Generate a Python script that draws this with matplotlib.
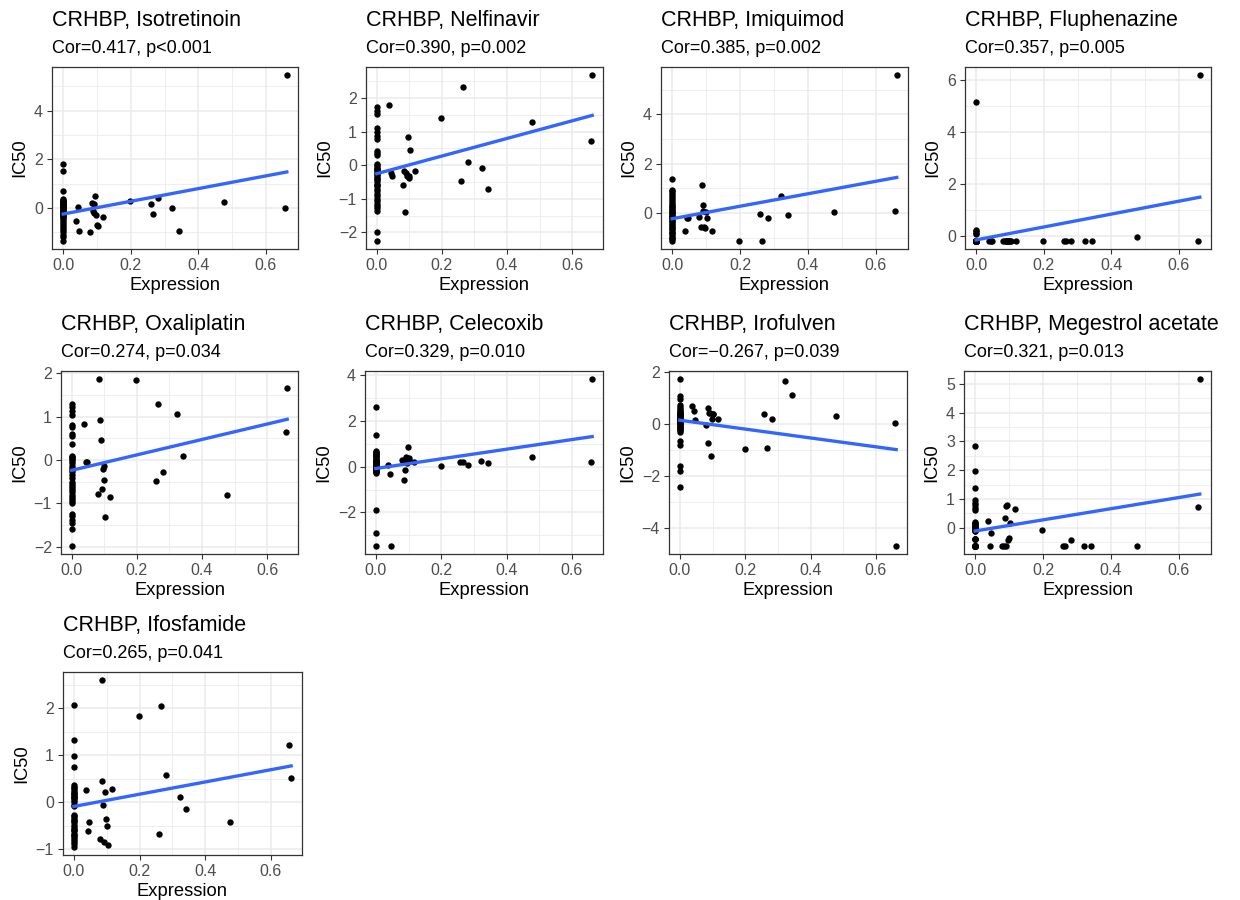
import numpy as np
import matplotlib
matplotlib.use('Agg')
import matplotlib.pyplot as plt
from matplotlib.ticker import MultipleLocator

plt.rcParams['font.family'] = ['Liberation Sans', 'DejaVu Sans']

# expression of samples with non-zero CRHBP (the rest are 0)
x_nz = [0.037, 0.043, 0.046, 0.080, 0.085, 0.087, 0.090, 0.092, 0.095, 0.098, 0.100,
        0.103, 0.117, 0.198, 0.259, 0.266, 0.281, 0.322, 0.342, 0.477, 0.657, 0.662]

drugs = ['Isotretinoin', 'Nelfinavir', 'Imiquimod', 'Fluphenazine', 'Oxaliplatin',
         'Celecoxib', 'Irofulven', 'Megestrol acetate', 'Ifosfamide']
stats = ['Cor=0.417, p<0.001', 'Cor=0.390, p=0.002', 'Cor=0.385, p=0.002',
         'Cor=0.357, p=0.005', 'Cor=0.274, p=0.034', 'Cor=0.329, p=0.010',
         'Cor=\u22120.267, p=0.039', 'Cor=0.321, p=0.013', 'Cor=0.265, p=0.041']
ystep = [2, 1, 2, 2, 1, 2, 2, 1, 1]

# IC50 of the samples with expression 0
isotretinoin_zero = [1.8, 1.5, 0.7, 0.38, 0.32, 0.27, 0.22, 0.17, 0.12, 0.08, 0.04, 0.0, -0.04, -0.08,
                     -0.12, -0.16, -0.2, -0.24, -0.28, -0.32, -0.36, -0.42, -0.5, -0.58, -0.66, -0.75,
                     -0.82, -0.9, -1.0, -1.1, -1.2, -1.35, 0.3, 0.2, 0.1, 0.25, 0.15, 0.05]
nelfinavir_zero = [1.73, 1.62, 1.52, 1.1, 1.0, 0.88, 0.78, 0.42, 0.36, 0.3, 0.05, 0.0, -0.05, -0.1,
                   -0.15, -0.2, -0.25, -0.3, -0.36, -0.42, -0.48, -0.55, -0.62, -0.7, -0.78, -0.85,
                   -0.92, -1.0, -1.08, -1.15, -1.22, -1.28, -1.35, -2.0, -2.25, -0.12, -0.4, -0.6]
imiquimod_zero = [1.37, 0.95, 0.88, 0.8, 0.72, 0.64, 0.56, 0.48, 0.4, 0.32, 0.25, 0.18, 0.12, 0.05,
                  0.0, -0.05, -0.1, -0.15, -0.2, -0.28, -0.36, -0.44, -0.5, -0.58, -0.66, -0.74,
                  -0.82, -0.9, -0.97, -1.05, -1.12, -0.3, -0.12, 0.08, -0.6, -0.8, 0.3, -1.0]
fluphenazine_zero = [5.15, 0.22, 0.18, 0.12, 0.08, -0.18, -0.18, -0.18, -0.18, -0.18, -0.18, -0.18,
                     -0.18, -0.18, -0.18, -0.18, -0.18, -0.18, -0.18, -0.18, -0.18, -0.18, -0.18,
                     -0.18, -0.18, -0.18, -0.18, -0.18, -0.18, -0.18, -0.18, -0.18, -0.18, -0.18,
                     -0.18, -0.18, -0.18, -0.18]
oxaliplatin_zero = [1.3, 1.22, 1.13, 1.03, 0.8, 0.75, 0.6, 0.55, 0.37, 0.07, 0.02, -0.03, -0.08, -0.13,
                    -0.18, -0.23, -0.28, -0.35, -0.42, -0.5, -0.55, -0.6, -0.65, -0.7, -0.75, -0.8,
                    -0.85, -0.9, -0.95, -1.0, -1.25, -1.3, -1.38, -1.45, -1.6, -1.98, 0.1, 0.05]
celecoxib_zero = [2.6, 1.4, 0.7, 0.65, 0.6, 0.55, 0.5, 0.45, 0.4, 0.35, 0.3, 0.25, 0.2, 0.15, 0.1,
                  0.05, 0.0, -0.05, -0.1, -0.15, -0.2, -0.25, -0.3, -1.9, -2.9, -3.45, 0.1, 0.0,
                  -0.1, 0.2, 0.3, -0.2, 0.05, 0.15, -0.05, 0.25, 0.45, -0.15]
irofulven_zero = [1.73, 1.08, 0.97, 0.75, 0.68, 0.6, 0.52, 0.45, 0.38, 0.3, 0.24, 0.18, 0.12, 0.06,
                  0.0, -0.06, -0.12, -0.18, -0.24, -0.3, -0.65, -0.8, -1.6, -1.8, -2.4, 0.1, 0.2,
                  0.3, 0.4, 0.5, -0.1, 0.0, 0.15, 0.25, 0.35, -0.2, 0.05, 0.45]
megestrol_zero = [2.83, 1.97, 1.37, 0.97, 0.85, 0.78, 0.7, 0.62, 0.2, 0.16, 0.12, 0.08, 0.04, 0.0,
                  -0.04, -0.08, -0.12, -0.38, -0.62, -0.62, -0.62, -0.62, -0.62, -0.62, -0.62, -0.38,
                  -0.62, -0.38, 0.15, -0.62, -0.1, -0.62, 0.07, -0.62, -0.38, -0.62, -0.62, -0.62]
ifosfamide_zero = [2.07, 1.33, 0.98, 0.76, 0.37, 0.33, 0.3, 0.26, 0.22, 0.18, 0.15, 0.12, 0.08, 0.05,
                   0.0, -0.05, -0.09, -0.28, -0.33, -0.38, -0.43, -0.48, -0.53, -0.58, -0.62, -0.67,
                   -0.72, -0.76, -0.8, -0.85, -0.9, -0.95, 0.1, 0.2, -0.4, -0.6, -0.7, -0.3]

# IC50 of the samples in x_nz (same order)
isotretinoin_nz = [-0.55, 0.05, -0.95, -0.99, 0.19, -0.13, 0.15, -0.19, 0.5, -0.3, -0.72,
                   -0.73, -0.39, 0.27, 0.16, -0.27, 0.41, 0.0, -0.97, 0.26, 0.0, 5.46]
nelfinavir_nz = [1.8, -0.22, -0.32, -0.58, -0.18, -1.4, -0.22, -0.32, 0.84, -0.39, -0.32,
                 0.44, -0.18, 1.42, -0.46, 2.33, 0.11, -0.09, -0.72, 1.28, 0.72, 2.68]
imiquimod_nz = [-0.71, -0.21, -0.18, -0.16, -0.57, 1.13, 0.33, 0.07, -0.55, -0.6, 0.05,
                -0.2, -0.72, -1.12, -0.05, -1.12, -0.21, 0.69, -0.08, 0.05, 0.07, 5.59]
fluphenazine_nz = [-0.18, -0.18, -0.18, -0.18, -0.18, -0.18, -0.18, -0.18, -0.18, -0.18, -0.18,
                   -0.18, -0.18, -0.18, -0.18, -0.18, -0.18, -0.18, -0.18, -0.02, -0.18, 6.17]
oxaliplatin_nz = [0.84, -0.06, -0.04, -0.79, 1.86, 0.92, 0.47, -0.67, -0.2, -0.46, -0.14,
                  -1.31, -0.85, 1.85, -0.48, 1.28, -0.27, 1.05, 0.08, -0.81, 0.65, 1.66]
celecoxib_nz = [0.07, -0.32, -3.45, 0.27, 0.3, -0.59, -0.14, 0.4, 0.16, 0.87, 0.3,
                0.36, 0.2, 0.02, 0.2, 0.19, 0.07, 0.25, 0.16, 0.41, 0.19, 3.81]
irofulven_nz = [0.7, 0.51, 0.15, -0.04, -0.74, 0.61, 0.44, 0.44, -1.24, 0.19, 0.38,
                0.38, 0.2, -0.97, 0.39, -0.9, 0.22, 1.67, 1.11, 0.32, 0.03, -4.68]
megestrol_nz = [0.24, -0.62, -0.18, -0.62, -0.62, 0.35, 0.76, -0.62, 0.79, -0.41, -0.36,
                0.17, 0.64, -0.08, -0.62, -0.62, -0.41, -0.62, -0.62, -0.62, 0.73, 5.16]
ifosfamide_nz = [0.26, -0.62, -0.42, -0.78, 2.6, 0.46, -0.06, -0.85, 0.21, -0.35, -0.51,
                 -0.91, 0.29, 1.83, -0.68, 2.05, 0.58, 0.1, -0.14, -0.43, 1.22, 0.51]

zero_ic50 = [isotretinoin_zero, nelfinavir_zero, imiquimod_zero, fluphenazine_zero, oxaliplatin_zero,
             celecoxib_zero, irofulven_zero, megestrol_zero, ifosfamide_zero]
nz_ic50 = [isotretinoin_nz, nelfinavir_nz, imiquimod_nz, fluphenazine_nz, oxaliplatin_nz,
           celecoxib_nz, irofulven_nz, megestrol_nz, ifosfamide_nz]

# panel boxes in pixels: left, top, right, bottom
boxes = [(52, 67, 298, 249), (366, 67, 603, 249), (661, 67, 908, 249), (965, 67, 1211, 249),
         (61, 371, 298, 554), (365, 371, 603, 554), (669, 371, 907, 554), (964, 371, 1211, 554),
         (63, 672, 302, 855)]

W, H = 1240, 900
fig = plt.figure(figsize=(W / 100, H / 100), dpi=100)

for i in range(len(drugs)):
    l, t, r, b = boxes[i]
    ax = fig.add_axes([l / W, 1 - b / H, (r - l) / W, (b - t) / H])
    x = np.array([0.0] * len(zero_ic50[i]) + x_nz)
    y = np.array(zero_ic50[i] + nz_ic50[i])
    ax.set_axisbelow(True)
    ax.grid(which='major', color='#EBEBEB', lw=1.1)
    ax.grid(which='minor', color='#EBEBEB', lw=0.6)
    ax.scatter(x, y, s=21, color='black', zorder=3, linewidths=0)
    k, c = np.polyfit(x, y, 1)
    xl = np.array([x.min(), x.max()])
    ax.plot(xl, k * xl + c, color='#3366FF', lw=2.4, zorder=4)
    ax.margins(x=0.05, y=0.05)
    ax.xaxis.set_major_locator(MultipleLocator(0.2))
    ax.xaxis.set_minor_locator(MultipleLocator(0.1))
    ax.yaxis.set_major_locator(MultipleLocator(ystep[i]))
    ax.yaxis.set_minor_locator(MultipleLocator(ystep[i] / 2))
    ax.xaxis.set_major_formatter(lambda v, p: '%.1f' % v)
    ax.tick_params(which='major', length=3.5, color='#333333', labelcolor='#4D4D4D', labelsize=11.5, pad=3)
    ax.tick_params(which='minor', length=0)
    for s in ax.spines.values():
        s.set_color('#333333')
        s.set_linewidth(0.9)
    ax.set_xlabel('Expression', fontsize=13.2, labelpad=3)
    ax.set_ylabel('IC50', fontsize=13.2, labelpad=4)
    fig.text(l / W, 1 - (t - 41) / H, 'CRHBP, ' + drugs[i], fontsize=15.5, va='baseline', ha='left')
    fig.text(l / W, 1 - (t - 14) / H, stats[i], fontsize=13, va='baseline', ha='left')

fig.savefig('out.png', dpi=100, facecolor='white')
